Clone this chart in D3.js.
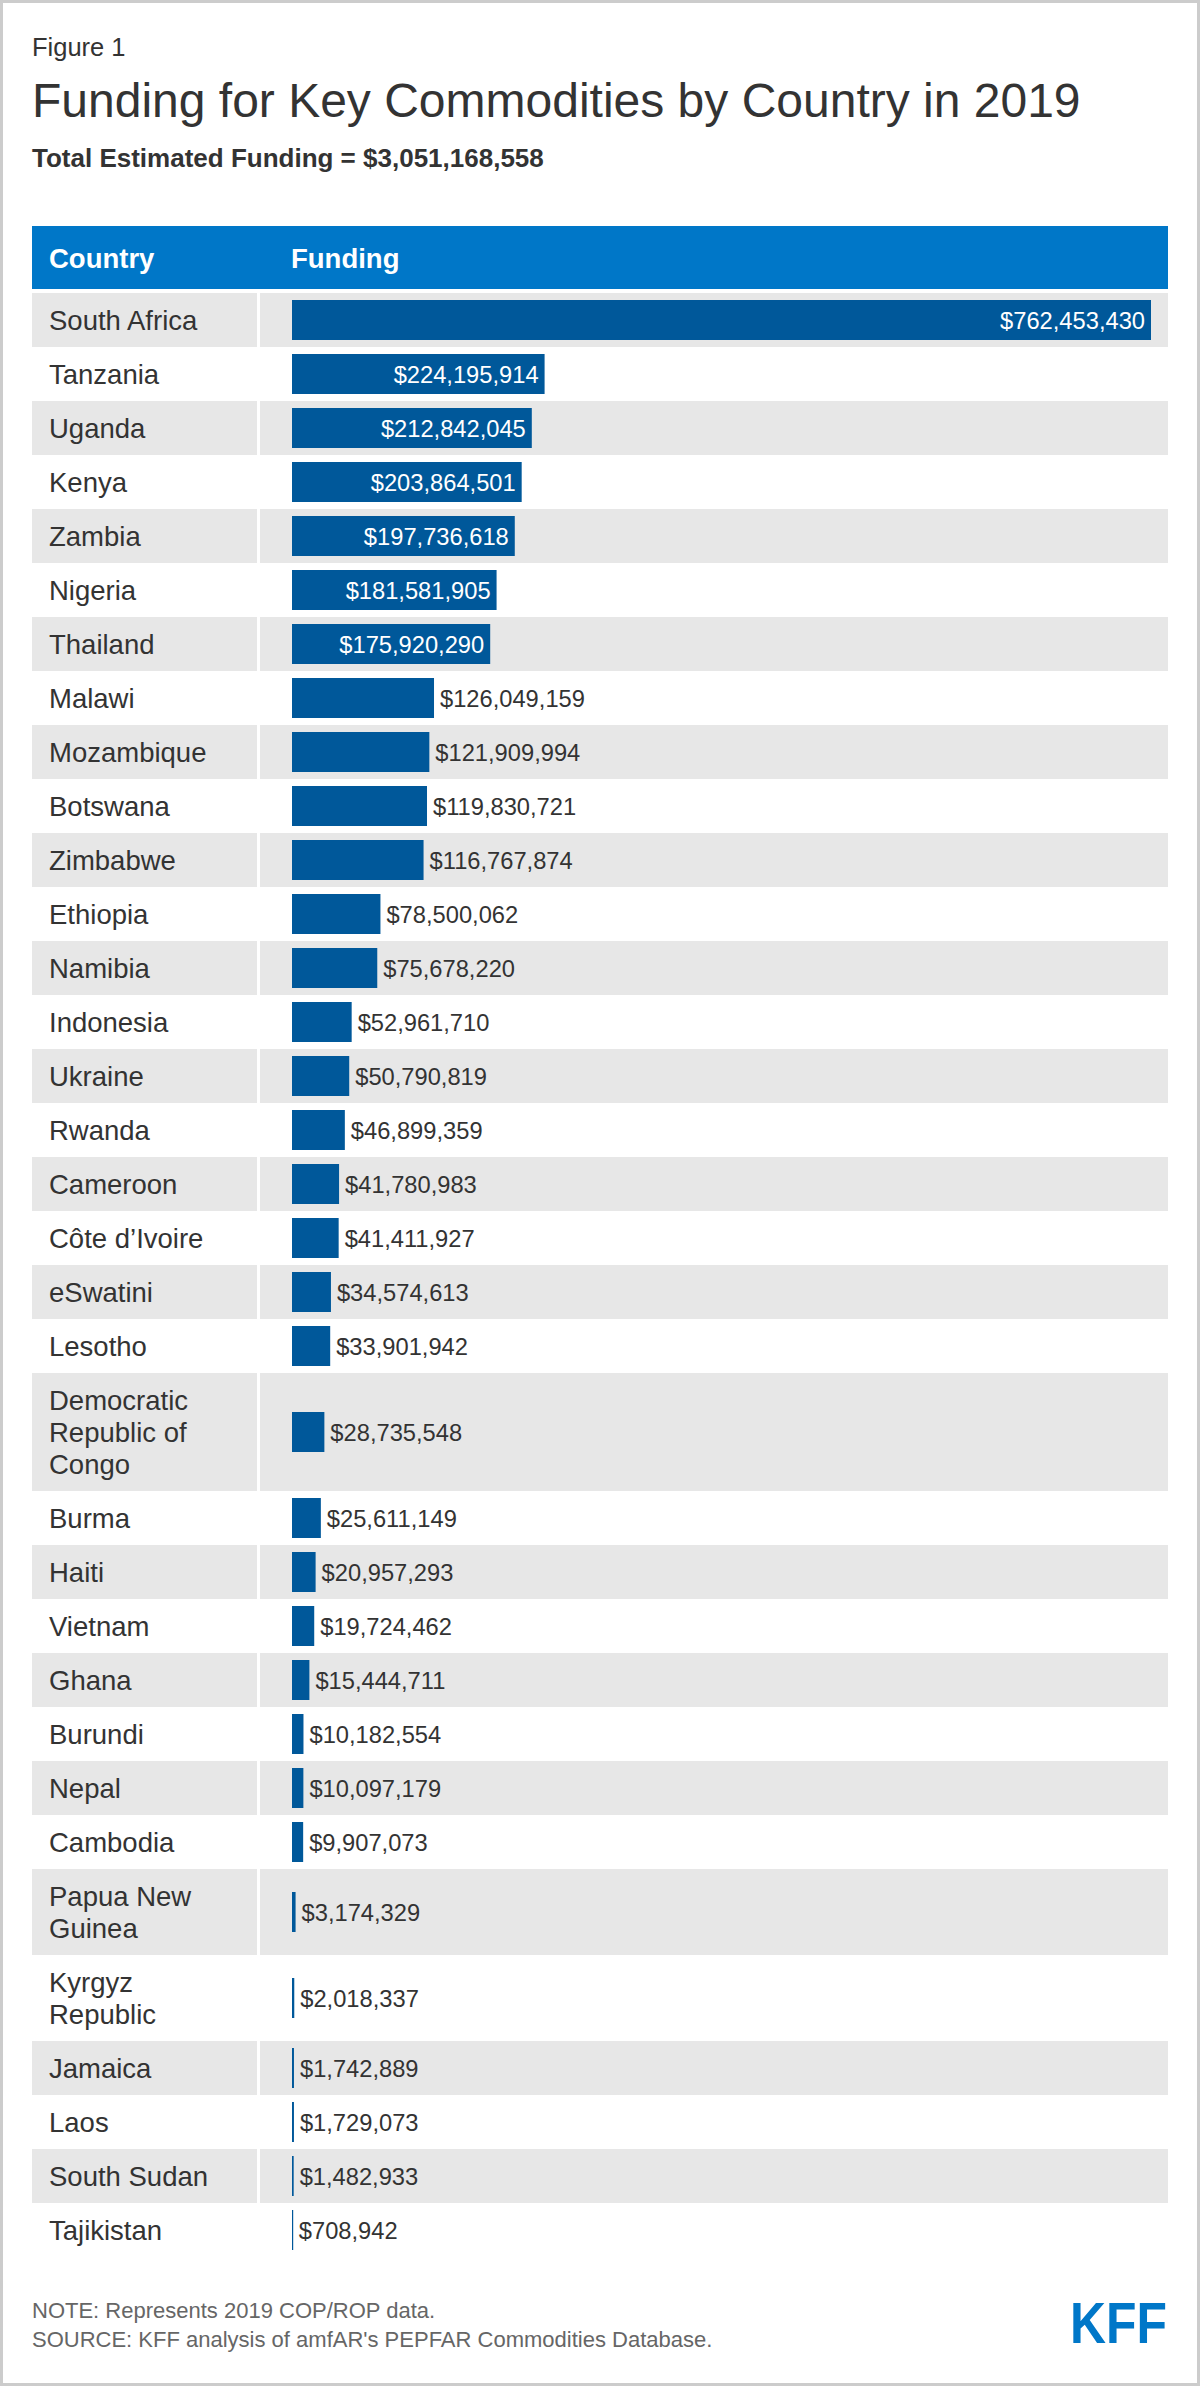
<!DOCTYPE html>
<html lang="en">
<head>
    <meta charset="UTF-8">
    <title>Funding for Key Commodities by Country in 2019</title>
    <script src="https://d3js.org/d3.v7.min.js"></script>
    <style>
        body { margin: 0; background: #fff; }
        text { font-family: "Liberation Sans", Arial, Helvetica, sans-serif; }
    </style>
</head>
<body>
    <svg width="1200" height="2386" id="chart"></svg>

    <script>
        // Data
        const countries = [
            "South Africa", "Tanzania", "Uganda", "Kenya", "Zambia", "Nigeria", "Thailand",
            "Malawi", "Mozambique", "Botswana", "Zimbabwe", "Ethiopia", "Namibia", "Indonesia",
            "Ukraine", "Rwanda", "Cameroon", "Côte d’Ivoire", "eSwatini", "Lesotho",
            "Democratic Republic of Congo", "Burma", "Haiti", "Vietnam", "Ghana", "Burundi",
            "Nepal", "Cambodia", "Papua New Guinea", "Kyrgyz Republic", "Jamaica", "Laos",
            "South Sudan", "Tajikistan"
        ];
        const funding = [
            762453430, 224195914, 212842045, 203864501, 197736618, 181581905, 175920290,
            126049159, 121909994, 119830721, 116767874, 78500062, 75678220, 52961710,
            50790819, 46899359, 41780983, 41411927, 34574613, 33901942,
            28735548, 25611149, 20957293, 19724462, 15444711, 10182554,
            10097179, 9907073, 3174329, 2018337, 1742889, 1729073,
            1482933, 708942
        ];
        const figureLabel = "Figure 1";
        const title = "Funding for Key Commodities by Country in 2019";
        const subtitle = "Total Estimated Funding = $3,051,168,558";
        const headers = ["Country", "Funding"];
        const notes = [
            "NOTE: Represents 2019 COP/ROP data.",
            "SOURCE: KFF analysis of amfAR's PEPFAR Commodities Database."
        ];

        // Layout constants
        const W = 1200, H = 2386;
        const left = 32, right = 1168;
        const labelColEnd = 257, valueColStart = 260;
        const barX0 = 292, barX1 = 1151;
        const headerTop = 226, headerH = 63;
        const tableTop = 293;
        const lineH = 32, rowPad = 22, barH = 40;
        const labelMaxW = 186;

        const textColor = "#333333";
        const kffBlue = "#0077c8";
        const barColor = "#00589a";
        const stripe = "#e7e7e7";

        const svg = d3.select("#chart");

        svg.append("rect")
            .attr("x", 1.5).attr("y", 1.5)
            .attr("width", W - 3).attr("height", H - 3)
            .attr("fill", "#fff")
            .attr("stroke", "#cccccc")
            .attr("stroke-width", 3);

        // Titles
        svg.append("text").attr("x", left).attr("y", 56)
            .style("font-size", "25.5px").style("fill", textColor)
            .text(figureLabel);
        svg.append("text").attr("x", left).attr("y", 117)
            .style("font-size", "48px").style("fill", textColor)
            .text(title);
        svg.append("text").attr("x", left).attr("y", 167)
            .style("font-size", "26px").style("font-weight", "bold").style("fill", textColor)
            .text(subtitle);

        // Header band
        svg.append("rect")
            .attr("x", left).attr("y", headerTop)
            .attr("width", right - left).attr("height", headerH)
            .attr("fill", kffBlue);
        svg.selectAll("text.header")
            .data(headers)
            .join("text")
            .attr("class", "header")
            .attr("x", (d, i) => i === 0 ? 49 : 291)
            .attr("y", headerTop + 42)
            .style("font-size", "27.5px").style("font-weight", "bold").style("fill", "#fff")
            .text(d => d);

        // Word-wrap the country names to fit the first column
        const measure = svg.append("text").style("font-size", "27.5px");
        function wrap(name) {
            const words = name.split(" ");
            const lines = [];
            let cur = "";
            words.forEach(w => {
                const test = cur ? cur + " " + w : w;
                measure.text(test);
                if (cur && measure.node().getComputedTextLength() > labelMaxW) {
                    lines.push(cur);
                    cur = w;
                } else {
                    cur = test;
                }
            });
            lines.push(cur);
            return lines;
        }

        let yCursor = tableTop;
        const rows = countries.map((c, i) => {
            const lines = wrap(c);
            const h = rowPad + lineH * lines.length;
            const row = { country: c, value: funding[i], lines, y: yCursor, h, i };
            yCursor += h;
            return row;
        });
        measure.remove();

        const x = d3.scaleLinear()
            .domain([0, d3.max(funding)])
            .range([barX0, barX1]);
        const fmt = v => "$" + d3.format(",")(v);

        const g = svg.selectAll("g.row")
            .data(rows)
            .join("g")
            .attr("class", "row")
            .attr("transform", d => `translate(0,${d.y})`);

        // Alternate stripes
        g.filter(d => d.i % 2 === 0).append("rect")
            .attr("x", left).attr("y", 0)
            .attr("width", labelColEnd - left).attr("height", d => d.h)
            .attr("fill", stripe);
        g.filter(d => d.i % 2 === 0).append("rect")
            .attr("x", valueColStart).attr("y", 0)
            .attr("width", right - valueColStart).attr("height", d => d.h)
            .attr("fill", stripe);

        // Country labels
        g.append("text")
            .attr("x", 49)
            .style("font-size", "27.5px").style("fill", textColor)
            .selectAll("tspan")
            .data(d => d.lines.map((l, k) => ({ l, k, n: d.lines.length, h: d.h })))
            .join("tspan")
            .attr("x", 49)
            .attr("y", t => t.h / 2 + 10 + (t.k - (t.n - 1) / 2) * lineH)
            .text(t => t.l);

        // Bars
        g.append("rect")
            .attr("x", x(0))
            .attr("y", d => d.h / 2 - barH / 2)
            .attr("width", d => Math.max(1.2, x(d.value) - x(0)))
            .attr("height", barH)
            .attr("fill", barColor);

        // Value labels: inside the bar when it fits, otherwise just after it
        g.append("text")
            .attr("y", d => d.h / 2 + 8.5)
            .style("font-size", "23.7px")
            .text(d => fmt(d.value))
            .each(function (d) {
                const tw = this.getComputedTextLength();
                const bw = x(d.value) - x(0);
                const inside = bw > tw + 40;
                d3.select(this)
                    .attr("x", inside ? x(d.value) - 6 : x(d.value) + 6)
                    .attr("text-anchor", inside ? "end" : "start")
                    .style("fill", inside ? "#fff" : textColor);
            });

        // Footer
        svg.selectAll("text.note")
            .data(notes)
            .join("text")
            .attr("class", "note")
            .attr("x", left)
            .attr("y", (d, i) => 2318 + i * 29)
            .style("font-size", "22px").style("fill", "#666666")
            .text(d => d);

        svg.append("text")
            .attr("x", 1070).attr("y", 2343)
            .attr("textLength", 97).attr("lengthAdjust", "spacingAndGlyphs")
            .style("font-family", "'Liberation Sans Narrow', 'Liberation Sans', Arial, sans-serif")
            .style("font-size", "57px").style("font-weight", "bold").style("fill", kffBlue)
            .text("KFF");
    </script>
</body>
</html>
